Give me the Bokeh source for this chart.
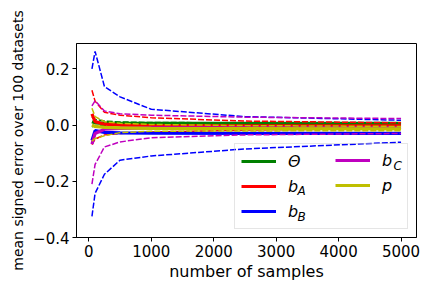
from bokeh.plotting import figure
from bokeh.models import Range1d, FixedTicker, Legend, LegendItem, Label
from bokeh.embed import file_html
from bokeh.resources import INLINE

# ---- data ----
n_samples = [50, 100, 250, 500, 1000, 2500, 5000]

theta_mean = [0.012, 0.008, 0.006, 0.006, 0.006, 0.006, 0.006]
theta_hi = [0.030, 0.020, 0.014, 0.011, 0.009, 0.008, 0.007]
theta_lo = [-0.006, -0.003, -0.002, 0.001, 0.003, 0.004, 0.005]

bA_mean = [0.040, 0.012, 0.003, 0.000, -0.002, -0.003, -0.003]
bA_hi = [0.124, 0.085, 0.045, 0.035, 0.026, 0.014, 0.008]
bA_lo = [-0.070, -0.050, -0.035, -0.030, -0.025, -0.018, -0.012]

bB_mean = [-0.055, -0.020, -0.026, -0.028, -0.029, -0.030, -0.030]
bB_hi = [0.200, 0.262, 0.137, 0.100, 0.056, 0.030, 0.017]
bB_lo = [-0.325, -0.243, -0.175, -0.125, -0.110, -0.085, -0.061]

bC_mean = [-0.068, -0.030, -0.015, -0.012, -0.010, -0.010, -0.010]
bC_hi = [0.068, 0.086, 0.050, 0.040, 0.035, 0.028, 0.023]
bC_lo = [-0.210, -0.140, -0.078, -0.060, -0.045, -0.035, -0.030]

p_mean = [0.000, -0.005, -0.008, -0.010, -0.012, -0.013, -0.014]
p_hi = [0.060, 0.030, 0.012, 0.006, 0.002, -0.002, -0.005]
p_lo = [-0.057, -0.048, -0.038, -0.027, -0.022, -0.021, -0.020]

series_names = ["Θ", "b", "b", "b", "p"]
subscripts = ["", "A", "B", "C", ""]
colors = ["#008000", "#ff0000", "#0000ff", "#bf00bf", "#bfbf00"]

y_ticks = [-0.4, -0.2, 0.0, 0.2]
y_tick_labels = ["−0.4", "−0.2", "0.0", "0.2"]
x_ticks = [0, 1000, 2000, 3000, 4000, 5000]

FONT = "DejaVu Sans"

X0, X1 = -197.5, 5247.5
Y0, Y1 = -0.40, 0.29
FW, FH = 340, 194

p = figure(frame_width=FW, frame_height=FH, output_backend="svg",
           toolbar_location=None,
           x_range=Range1d(X0, X1), y_range=Range1d(Y0, Y1),
           min_border_left=76, min_border_right=8, min_border_top=43,
           min_border_bottom=40)
p.background_fill_color = "white"
p.border_fill_color = "white"
p.outline_line_color = "black"
p.outline_line_alpha = 1.0
p.outline_line_width = 1
p.grid.visible = False

sets = [
    (theta_mean, theta_hi, theta_lo),
    (bA_mean, bA_hi, bA_lo),
    (bB_mean, bB_hi, bB_lo),
    (bC_mean, bC_hi, bC_lo),
    (p_mean, p_hi, p_lo),
]

solid_renderers = []
for (m, hi, lo), c in zip(sets, colors):
    r = p.line(n_samples, m, line_color=c, line_width=3.2)
    solid_renderers.append(r)
    p.line(n_samples, hi, line_color=c, line_width=1.5, line_dash="6 2")
    p.line(n_samples, lo, line_color=c, line_width=1.5, line_dash="6 2")

# axes styling
for ax in (p.xaxis[0], p.yaxis[0]):
    ax.axis_line_color = "black"
    ax.major_tick_line_color = "black"
    ax.major_tick_out = 4
    ax.major_tick_in = 0
    ax.minor_tick_line_color = None
    ax.major_label_text_font = FONT
    ax.major_label_text_font_size = "15px"
    ax.major_label_text_color = "black"
    ax.axis_label_text_font = FONT
    ax.axis_label_text_font_style = "normal"
    ax.axis_label_text_color = "black"
    ax.major_label_standoff = 3

p.xaxis.axis_label_text_font_size = "16px"
p.yaxis.axis_label_text_font_size = "14px"
p.xaxis.ticker = FixedTicker(ticks=x_ticks)
p.yaxis.ticker = FixedTicker(ticks=y_ticks)
p.yaxis.major_label_overrides = {t: l for t, l in zip(y_ticks, y_tick_labels)}
p.xaxis.axis_label = "number of samples"
p.yaxis.axis_label = "mean signed error over 100 datasets"
p.xaxis.axis_label_standoff = 2
p.yaxis.axis_label_standoff = 4

common = dict(glyph_width=35, glyph_height=22, label_standoff=12, spacing=3,
              padding=6, label_text_font=FONT, label_text_font_size="16px",
              label_text_font_style="italic", label_text_color="black")

# first column (with the framed box)
legend1 = Legend(
    items=[LegendItem(label=series_names[i], renderers=[solid_renderers[i]]) for i in range(3)],
    location="bottom_right", label_width=113, margin=8,
    border_line_color="#cccccc", border_line_width=1,
    background_fill_color="white", background_fill_alpha=0.0, **common)
# second column, drawn inside the same box
legend2 = Legend(
    items=[LegendItem(label=series_names[i], renderers=[solid_renderers[i]]) for i in range(3, 5)],
    location=(259, 41), label_width=20, margin=0,
    border_line_color=None, background_fill_alpha=0.0, **common)
p.add_layout(legend1)
p.add_layout(legend2)

# subscripts for the legend labels (annotation positions in pixels of the frame)
def fx(px):
    return X0 + px * (X1 - X0) / FW

def fy(py):
    return Y1 - py * (Y1 - Y0) / FH

sub_pos = {"A": (221, 147), "B": (221, 173), "C": (317, 122)}
for s in subscripts:
    if s:
        px, py = sub_pos[s]
        p.add_layout(Label(x=fx(px), y=fy(py), text=s, text_font=FONT,
                           text_font_size="12px", text_font_style="italic",
                           text_color="#000000", text_alpha=1.0, level="overlay",
                           text_baseline="middle", text_align="left"))

open("out.html", "w").write(file_html(p, INLINE))
